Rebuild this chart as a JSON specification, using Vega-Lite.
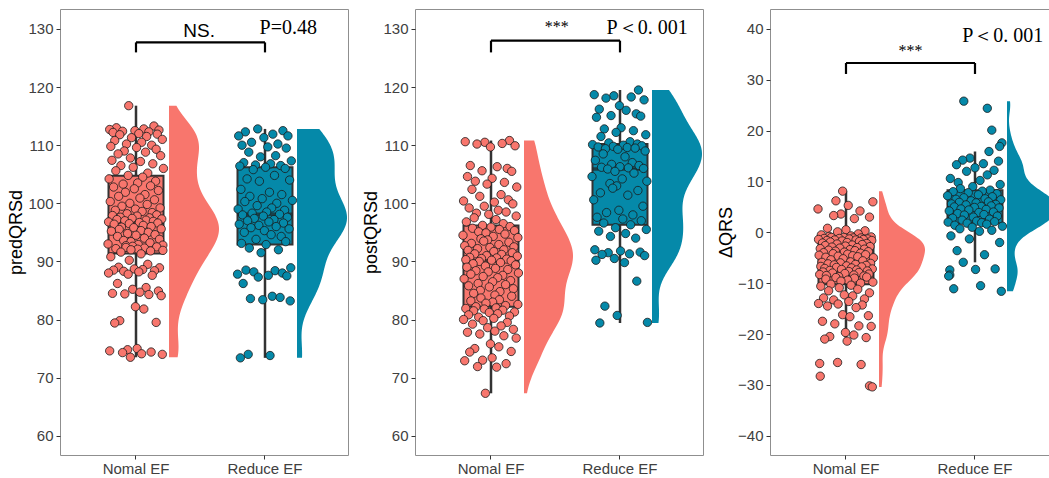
{
  "$schema": "https://vega.github.io/schema/vega-lite/v6.json",
  "background": "white",
  "padding": {"left": 7, "top": 8, "right": 0, "bottom": 0},
  "spacing": 13,
  "config": {
    "view": {"stroke": "#8f8f8f", "strokeWidth": 1},
    "font": "Liberation Sans",
    "axis": {"labelFont": "Liberation Sans", "labelFontSize": 15, "labelColor": "#404040", "tickColor": "#333333", "tickSize": 4, "domain": false, "grid": false, "titleFont": "Liberation Sans", "titleFontSize": 18, "titleFontWeight": "normal", "titleColor": "#000000"},
    "axisY": {"labelPadding": 3, "titlePadding": 2},
    "axisX": {"labelPadding": 2}
  },
  "datasets": {
    "pred": [
      {"g":"Nomal EF","id":37,"v":116.8},{"g":"Nomal EF","id":82,"v":113.3},{"g":"Nomal EF","id":15,"v":113.0},{"g":"Nomal EF","id":64,"v":112.8},{"g":"Nomal EF","id":3,"v":112.7},{"g":"Nomal EF","id":91,"v":112.6},{"g":"Nomal EF","id":48,"v":112.5},{"g":"Nomal EF","id":26,"v":112.4},{"g":"Nomal EF","id":73,"v":112.3},{"g":"Nomal EF","id":9,"v":112.2},
      {"g":"Nomal EF","id":55,"v":112.0},{"g":"Nomal EF","id":88,"v":111.9},{"g":"Nomal EF","id":21,"v":111.8},{"g":"Nomal EF","id":69,"v":111.5},{"g":"Nomal EF","id":42,"v":111.3},{"g":"Nomal EF","id":97,"v":111.0},{"g":"Nomal EF","id":12,"v":110.8},{"g":"Nomal EF","id":60,"v":110.5},{"g":"Nomal EF","id":33,"v":110.2},{"g":"Nomal EF","id":78,"v":110.0},
      {"g":"Nomal EF","id":5,"v":109.8},{"g":"Nomal EF","id":51,"v":109.6},{"g":"Nomal EF","id":86,"v":109.3},{"g":"Nomal EF","id":29,"v":109.0},{"g":"Nomal EF","id":67,"v":108.8},{"g":"Nomal EF","id":18,"v":108.5},{"g":"Nomal EF","id":94,"v":108.2},{"g":"Nomal EF","id":40,"v":107.8},{"g":"Nomal EF","id":7,"v":107.4},{"g":"Nomal EF","id":58,"v":107.2},
      {"g":"Nomal EF","id":80,"v":106.8},{"g":"Nomal EF","id":23,"v":106.5},{"g":"Nomal EF","id":45,"v":106.2},{"g":"Nomal EF","id":99,"v":106.0},{"g":"Nomal EF","id":14,"v":105.6},{"g":"Nomal EF","id":71,"v":105.2},{"g":"Nomal EF","id":36,"v":104.8},{"g":"Nomal EF","id":62,"v":104.5},{"g":"Nomal EF","id":2,"v":104.2},{"g":"Nomal EF","id":85,"v":103.8},
      {"g":"Nomal EF","id":53,"v":103.5},{"g":"Nomal EF","id":27,"v":103.3},{"g":"Nomal EF","id":76,"v":103.0},{"g":"Nomal EF","id":10,"v":102.8},{"g":"Nomal EF","id":47,"v":102.5},{"g":"Nomal EF","id":90,"v":102.2},{"g":"Nomal EF","id":31,"v":101.9},{"g":"Nomal EF","id":66,"v":101.5},{"g":"Nomal EF","id":19,"v":101.2},{"g":"Nomal EF","id":57,"v":100.9},
      {"g":"Nomal EF","id":83,"v":100.6},{"g":"Nomal EF","id":4,"v":100.3},{"g":"Nomal EF","id":39,"v":100.0},{"g":"Nomal EF","id":70,"v":99.8},{"g":"Nomal EF","id":25,"v":99.5},{"g":"Nomal EF","id":93,"v":99.2},{"g":"Nomal EF","id":49,"v":99.0},{"g":"Nomal EF","id":13,"v":98.8},{"g":"Nomal EF","id":61,"v":98.6},{"g":"Nomal EF","id":79,"v":98.4},
      {"g":"Nomal EF","id":34,"v":98.2},{"g":"Nomal EF","id":87,"v":98.0},{"g":"Nomal EF","id":8,"v":97.9},{"g":"Nomal EF","id":52,"v":97.8},{"g":"Nomal EF","id":22,"v":97.6},{"g":"Nomal EF","id":74,"v":97.5},{"g":"Nomal EF","id":43,"v":97.4},{"g":"Nomal EF","id":96,"v":97.3},{"g":"Nomal EF","id":16,"v":97.2},{"g":"Nomal EF","id":68,"v":97.1},
      {"g":"Nomal EF","id":30,"v":97.0},{"g":"Nomal EF","id":81,"v":96.9},{"g":"Nomal EF","id":1,"v":96.8},{"g":"Nomal EF","id":56,"v":96.7},{"g":"Nomal EF","id":89,"v":96.6},{"g":"Nomal EF","id":38,"v":96.5},{"g":"Nomal EF","id":11,"v":96.4},{"g":"Nomal EF","id":63,"v":96.2},{"g":"Nomal EF","id":77,"v":96.0},{"g":"Nomal EF","id":24,"v":95.9},
      {"g":"Nomal EF","id":46,"v":95.8},{"g":"Nomal EF","id":95,"v":95.6},{"g":"Nomal EF","id":20,"v":95.5},{"g":"Nomal EF","id":59,"v":95.3},{"g":"Nomal EF","id":6,"v":95.2},{"g":"Nomal EF","id":72,"v":95.0},{"g":"Nomal EF","id":35,"v":94.8},{"g":"Nomal EF","id":84,"v":94.6},{"g":"Nomal EF","id":50,"v":94.5},{"g":"Nomal EF","id":17,"v":94.3},
      {"g":"Nomal EF","id":65,"v":94.0},{"g":"Nomal EF","id":92,"v":93.8},{"g":"Nomal EF","id":28,"v":93.6},{"g":"Nomal EF","id":41,"v":93.4},{"g":"Nomal EF","id":75,"v":93.2},{"g":"Nomal EF","id":0,"v":93.0},{"g":"Nomal EF","id":54,"v":92.9},{"g":"Nomal EF","id":98,"v":92.8},{"g":"Nomal EF","id":32,"v":92.7},{"g":"Nomal EF","id":44,"v":92.6},
      {"g":"Nomal EF","id":87,"v":92.5},{"g":"Nomal EF","id":32,"v":92.4},{"g":"Nomal EF","id":65,"v":92.3},{"g":"Nomal EF","id":14,"v":92.2},{"g":"Nomal EF","id":53,"v":92.1},{"g":"Nomal EF","id":41,"v":92.0},{"g":"Nomal EF","id":98,"v":91.9},{"g":"Nomal EF","id":76,"v":91.8},{"g":"Nomal EF","id":23,"v":91.6},{"g":"Nomal EF","id":59,"v":91.3},
      {"g":"Nomal EF","id":5,"v":90.8},{"g":"Nomal EF","id":38,"v":90.2},{"g":"Nomal EF","id":71,"v":89.5},{"g":"Nomal EF","id":19,"v":89.0},{"g":"Nomal EF","id":92,"v":88.9},{"g":"Nomal EF","id":47,"v":88.7},{"g":"Nomal EF","id":62,"v":88.6},{"g":"Nomal EF","id":10,"v":88.5},{"g":"Nomal EF","id":83,"v":88.4},{"g":"Nomal EF","id":28,"v":88.3},
      {"g":"Nomal EF","id":55,"v":88.2},{"g":"Nomal EF","id":1,"v":88.0},{"g":"Nomal EF","id":36,"v":87.8},{"g":"Nomal EF","id":79,"v":87.6},{"g":"Nomal EF","id":17,"v":86.2},{"g":"Nomal EF","id":68,"v":85.5},{"g":"Nomal EF","id":44,"v":85.2},{"g":"Nomal EF","id":90,"v":84.9},{"g":"Nomal EF","id":57,"v":84.7},{"g":"Nomal EF","id":8,"v":84.5},
      {"g":"Nomal EF","id":30,"v":84.4},{"g":"Nomal EF","id":73,"v":84.3},{"g":"Nomal EF","id":95,"v":84.1},{"g":"Nomal EF","id":49,"v":82.2},{"g":"Nomal EF","id":64,"v":81.8},{"g":"Nomal EF","id":21,"v":79.8},{"g":"Nomal EF","id":86,"v":79.5},{"g":"Nomal EF","id":12,"v":79.4},{"g":"Nomal EF","id":52,"v":75.0},{"g":"Nomal EF","id":35,"v":74.8},
      {"g":"Nomal EF","id":3,"v":74.6},{"g":"Nomal EF","id":77,"v":74.4},{"g":"Nomal EF","id":26,"v":74.3},{"g":"Nomal EF","id":60,"v":74.1},{"g":"Nomal EF","id":97,"v":74.0},{"g":"Nomal EF","id":40,"v":73.5},
      {"g":"Reduce EF","id":37,"v":112.8},{"g":"Reduce EF","id":82,"v":112.5},{"g":"Reduce EF","id":15,"v":112.3},{"g":"Reduce EF","id":64,"v":111.9},{"g":"Reduce EF","id":3,"v":111.6},{"g":"Reduce EF","id":91,"v":111.6},{"g":"Reduce EF","id":48,"v":111.3},{"g":"Reduce EF","id":26,"v":110.5},{"g":"Reduce EF","id":73,"v":110.2},{"g":"Reduce EF","id":9,"v":110.0},
      {"g":"Reduce EF","id":55,"v":109.7},{"g":"Reduce EF","id":88,"v":109.5},{"g":"Reduce EF","id":21,"v":108.8},{"g":"Reduce EF","id":69,"v":108.2},{"g":"Reduce EF","id":42,"v":108.0},{"g":"Reduce EF","id":97,"v":107.3},{"g":"Reduce EF","id":12,"v":107.0},{"g":"Reduce EF","id":60,"v":106.8},{"g":"Reduce EF","id":33,"v":106.6},{"g":"Reduce EF","id":78,"v":106.5},
      {"g":"Reduce EF","id":5,"v":106.4},{"g":"Reduce EF","id":51,"v":106.2},{"g":"Reduce EF","id":86,"v":106.0},{"g":"Reduce EF","id":29,"v":105.8},{"g":"Reduce EF","id":67,"v":104.8},{"g":"Reduce EF","id":18,"v":104.2},{"g":"Reduce EF","id":94,"v":104.0},{"g":"Reduce EF","id":40,"v":103.8},{"g":"Reduce EF","id":7,"v":102.4},{"g":"Reduce EF","id":58,"v":101.9},
      {"g":"Reduce EF","id":80,"v":101.5},{"g":"Reduce EF","id":23,"v":101.2},{"g":"Reduce EF","id":45,"v":100.8},{"g":"Reduce EF","id":99,"v":100.5},{"g":"Reduce EF","id":14,"v":100.3},{"g":"Reduce EF","id":71,"v":100.0},{"g":"Reduce EF","id":36,"v":99.6},{"g":"Reduce EF","id":62,"v":99.2},{"g":"Reduce EF","id":2,"v":99.0},{"g":"Reduce EF","id":85,"v":98.8},
      {"g":"Reduce EF","id":53,"v":98.5},{"g":"Reduce EF","id":27,"v":98.3},{"g":"Reduce EF","id":76,"v":98.1},{"g":"Reduce EF","id":10,"v":98.0},{"g":"Reduce EF","id":47,"v":97.8},{"g":"Reduce EF","id":90,"v":97.6},{"g":"Reduce EF","id":31,"v":97.4},{"g":"Reduce EF","id":66,"v":97.2},{"g":"Reduce EF","id":19,"v":97.0},{"g":"Reduce EF","id":57,"v":96.8},
      {"g":"Reduce EF","id":83,"v":96.6},{"g":"Reduce EF","id":4,"v":96.4},{"g":"Reduce EF","id":39,"v":96.2},{"g":"Reduce EF","id":70,"v":96.0},{"g":"Reduce EF","id":25,"v":95.8},{"g":"Reduce EF","id":93,"v":95.6},{"g":"Reduce EF","id":49,"v":95.3},{"g":"Reduce EF","id":13,"v":95.0},{"g":"Reduce EF","id":61,"v":94.6},{"g":"Reduce EF","id":79,"v":94.3},
      {"g":"Reduce EF","id":34,"v":93.8},{"g":"Reduce EF","id":87,"v":93.4},{"g":"Reduce EF","id":8,"v":93.1},{"g":"Reduce EF","id":52,"v":92.9},{"g":"Reduce EF","id":22,"v":92.3},{"g":"Reduce EF","id":74,"v":92.0},{"g":"Reduce EF","id":43,"v":91.5},{"g":"Reduce EF","id":96,"v":88.9},{"g":"Reduce EF","id":16,"v":88.5},{"g":"Reduce EF","id":68,"v":88.4},
      {"g":"Reduce EF","id":30,"v":88.2},{"g":"Reduce EF","id":81,"v":88.0},{"g":"Reduce EF","id":1,"v":87.8},{"g":"Reduce EF","id":56,"v":87.6},{"g":"Reduce EF","id":89,"v":87.5},{"g":"Reduce EF","id":38,"v":87.3},{"g":"Reduce EF","id":11,"v":86.2},{"g":"Reduce EF","id":63,"v":84.0},{"g":"Reduce EF","id":77,"v":83.8},{"g":"Reduce EF","id":24,"v":83.6},
      {"g":"Reduce EF","id":46,"v":83.4},{"g":"Reduce EF","id":95,"v":83.2},{"g":"Reduce EF","id":20,"v":74.0},{"g":"Reduce EF","id":59,"v":73.8},{"g":"Reduce EF","id":6,"v":73.4}
    ],
    "post": [
      {"g":"Nomal EF","id":83,"v":110.8},{"g":"Nomal EF","id":4,"v":110.6},{"g":"Nomal EF","id":39,"v":110.5},{"g":"Nomal EF","id":70,"v":110.3},{"g":"Nomal EF","id":25,"v":110.2},{"g":"Nomal EF","id":93,"v":109.9},{"g":"Nomal EF","id":49,"v":109.7},{"g":"Nomal EF","id":13,"v":106.5},{"g":"Nomal EF","id":61,"v":106.3},{"g":"Nomal EF","id":79,"v":106.0},
      {"g":"Nomal EF","id":34,"v":105.6},{"g":"Nomal EF","id":87,"v":105.5},{"g":"Nomal EF","id":8,"v":104.6},{"g":"Nomal EF","id":52,"v":104.3},{"g":"Nomal EF","id":22,"v":103.8},{"g":"Nomal EF","id":74,"v":103.6},{"g":"Nomal EF","id":43,"v":103.3},{"g":"Nomal EF","id":96,"v":102.8},{"g":"Nomal EF","id":16,"v":102.4},{"g":"Nomal EF","id":68,"v":101.5},
      {"g":"Nomal EF","id":30,"v":101.2},{"g":"Nomal EF","id":81,"v":100.6},{"g":"Nomal EF","id":1,"v":100.4},{"g":"Nomal EF","id":56,"v":100.2},{"g":"Nomal EF","id":89,"v":99.9},{"g":"Nomal EF","id":38,"v":99.5},{"g":"Nomal EF","id":11,"v":99.2},{"g":"Nomal EF","id":63,"v":98.8},{"g":"Nomal EF","id":77,"v":98.5},{"g":"Nomal EF","id":24,"v":98.3},
      {"g":"Nomal EF","id":46,"v":98.1},{"g":"Nomal EF","id":95,"v":97.8},{"g":"Nomal EF","id":20,"v":97.5},{"g":"Nomal EF","id":59,"v":97.2},{"g":"Nomal EF","id":6,"v":96.8},{"g":"Nomal EF","id":72,"v":96.5},{"g":"Nomal EF","id":35,"v":96.2},{"g":"Nomal EF","id":84,"v":96.0},{"g":"Nomal EF","id":50,"v":95.9},{"g":"Nomal EF","id":17,"v":95.7},
      {"g":"Nomal EF","id":65,"v":95.5},{"g":"Nomal EF","id":92,"v":95.3},{"g":"Nomal EF","id":28,"v":95.1},{"g":"Nomal EF","id":41,"v":94.9},{"g":"Nomal EF","id":75,"v":94.7},{"g":"Nomal EF","id":0,"v":94.5},{"g":"Nomal EF","id":54,"v":94.3},{"g":"Nomal EF","id":98,"v":94.1},{"g":"Nomal EF","id":32,"v":93.9},{"g":"Nomal EF","id":44,"v":93.7},
      {"g":"Nomal EF","id":37,"v":93.5},{"g":"Nomal EF","id":82,"v":93.3},{"g":"Nomal EF","id":15,"v":93.1},{"g":"Nomal EF","id":64,"v":92.9},{"g":"Nomal EF","id":3,"v":92.7},{"g":"Nomal EF","id":91,"v":92.5},{"g":"Nomal EF","id":48,"v":92.4},{"g":"Nomal EF","id":26,"v":92.2},{"g":"Nomal EF","id":73,"v":92.0},{"g":"Nomal EF","id":9,"v":91.9},
      {"g":"Nomal EF","id":55,"v":91.7},{"g":"Nomal EF","id":88,"v":91.5},{"g":"Nomal EF","id":21,"v":91.3},{"g":"Nomal EF","id":69,"v":91.2},{"g":"Nomal EF","id":42,"v":91.0},{"g":"Nomal EF","id":97,"v":90.9},{"g":"Nomal EF","id":12,"v":90.7},{"g":"Nomal EF","id":60,"v":90.6},{"g":"Nomal EF","id":33,"v":90.5},{"g":"Nomal EF","id":78,"v":90.4},
      {"g":"Nomal EF","id":5,"v":90.3},{"g":"Nomal EF","id":51,"v":90.2},{"g":"Nomal EF","id":86,"v":90.1},{"g":"Nomal EF","id":29,"v":90.0},{"g":"Nomal EF","id":67,"v":89.8},{"g":"Nomal EF","id":18,"v":89.6},{"g":"Nomal EF","id":94,"v":89.4},{"g":"Nomal EF","id":40,"v":89.2},{"g":"Nomal EF","id":7,"v":89.0},{"g":"Nomal EF","id":58,"v":88.8},
      {"g":"Nomal EF","id":80,"v":88.6},{"g":"Nomal EF","id":23,"v":88.4},{"g":"Nomal EF","id":45,"v":88.2},{"g":"Nomal EF","id":99,"v":88.0},{"g":"Nomal EF","id":14,"v":87.8},{"g":"Nomal EF","id":71,"v":87.6},{"g":"Nomal EF","id":36,"v":87.4},{"g":"Nomal EF","id":62,"v":87.2},{"g":"Nomal EF","id":2,"v":87.0},{"g":"Nomal EF","id":85,"v":86.7},
      {"g":"Nomal EF","id":53,"v":86.5},{"g":"Nomal EF","id":27,"v":86.2},{"g":"Nomal EF","id":76,"v":86.0},{"g":"Nomal EF","id":10,"v":85.8},{"g":"Nomal EF","id":47,"v":85.6},{"g":"Nomal EF","id":90,"v":85.3},{"g":"Nomal EF","id":31,"v":85.0},{"g":"Nomal EF","id":66,"v":84.8},{"g":"Nomal EF","id":19,"v":84.5},{"g":"Nomal EF","id":57,"v":84.2},
      {"g":"Nomal EF","id":87,"v":84.0},{"g":"Nomal EF","id":32,"v":83.7},{"g":"Nomal EF","id":65,"v":83.4},{"g":"Nomal EF","id":14,"v":83.2},{"g":"Nomal EF","id":53,"v":83.0},{"g":"Nomal EF","id":41,"v":82.8},{"g":"Nomal EF","id":98,"v":82.6},{"g":"Nomal EF","id":76,"v":82.4},{"g":"Nomal EF","id":23,"v":82.2},{"g":"Nomal EF","id":59,"v":82.0},
      {"g":"Nomal EF","id":5,"v":81.9},{"g":"Nomal EF","id":38,"v":81.8},{"g":"Nomal EF","id":71,"v":81.6},{"g":"Nomal EF","id":19,"v":81.5},{"g":"Nomal EF","id":92,"v":81.3},{"g":"Nomal EF","id":47,"v":81.2},{"g":"Nomal EF","id":62,"v":81.0},{"g":"Nomal EF","id":10,"v":80.8},{"g":"Nomal EF","id":83,"v":80.6},{"g":"Nomal EF","id":28,"v":80.4},
      {"g":"Nomal EF","id":55,"v":80.2},{"g":"Nomal EF","id":1,"v":80.0},{"g":"Nomal EF","id":36,"v":79.8},{"g":"Nomal EF","id":79,"v":79.5},{"g":"Nomal EF","id":17,"v":79.2},{"g":"Nomal EF","id":68,"v":78.9},{"g":"Nomal EF","id":44,"v":78.6},{"g":"Nomal EF","id":90,"v":78.3},{"g":"Nomal EF","id":57,"v":78.0},{"g":"Nomal EF","id":8,"v":77.8},
      {"g":"Nomal EF","id":30,"v":77.5},{"g":"Nomal EF","id":73,"v":77.2},{"g":"Nomal EF","id":95,"v":76.8},{"g":"Nomal EF","id":49,"v":75.8},{"g":"Nomal EF","id":64,"v":75.3},{"g":"Nomal EF","id":21,"v":75.0},{"g":"Nomal EF","id":86,"v":74.5},{"g":"Nomal EF","id":12,"v":74.4},{"g":"Nomal EF","id":52,"v":73.4},{"g":"Nomal EF","id":35,"v":73.0},
      {"g":"Nomal EF","id":3,"v":72.9},{"g":"Nomal EF","id":77,"v":72.4},{"g":"Nomal EF","id":26,"v":71.9},{"g":"Nomal EF","id":60,"v":71.8},{"g":"Nomal EF","id":40,"v":67.3},
      {"g":"Reduce EF","id":83,"v":119.5},{"g":"Reduce EF","id":4,"v":118.7},{"g":"Reduce EF","id":39,"v":118.5},{"g":"Reduce EF","id":70,"v":118.3},{"g":"Reduce EF","id":25,"v":118.1},{"g":"Reduce EF","id":93,"v":117.8},{"g":"Reduce EF","id":49,"v":116.8},{"g":"Reduce EF","id":13,"v":116.2},{"g":"Reduce EF","id":61,"v":116.0},{"g":"Reduce EF","id":79,"v":115.4},
      {"g":"Reduce EF","id":34,"v":115.1},{"g":"Reduce EF","id":87,"v":115.0},{"g":"Reduce EF","id":8,"v":114.8},{"g":"Reduce EF","id":52,"v":113.0},{"g":"Reduce EF","id":22,"v":112.8},{"g":"Reduce EF","id":74,"v":112.5},{"g":"Reduce EF","id":43,"v":112.2},{"g":"Reduce EF","id":96,"v":111.8},{"g":"Reduce EF","id":16,"v":111.5},{"g":"Reduce EF","id":68,"v":110.6},
      {"g":"Reduce EF","id":30,"v":110.4},{"g":"Reduce EF","id":81,"v":110.2},{"g":"Reduce EF","id":1,"v":110.1},{"g":"Reduce EF","id":56,"v":110.0},{"g":"Reduce EF","id":89,"v":109.9},{"g":"Reduce EF","id":38,"v":109.8},{"g":"Reduce EF","id":11,"v":109.7},{"g":"Reduce EF","id":63,"v":109.6},{"g":"Reduce EF","id":77,"v":109.5},{"g":"Reduce EF","id":24,"v":109.4},
      {"g":"Reduce EF","id":46,"v":109.3},{"g":"Reduce EF","id":95,"v":109.0},{"g":"Reduce EF","id":20,"v":108.5},{"g":"Reduce EF","id":59,"v":108.0},{"g":"Reduce EF","id":6,"v":107.4},{"g":"Reduce EF","id":72,"v":107.0},{"g":"Reduce EF","id":35,"v":106.7},{"g":"Reduce EF","id":84,"v":106.5},{"g":"Reduce EF","id":50,"v":106.3},{"g":"Reduce EF","id":17,"v":106.2},
      {"g":"Reduce EF","id":65,"v":106.1},{"g":"Reduce EF","id":92,"v":106.0},{"g":"Reduce EF","id":28,"v":105.9},{"g":"Reduce EF","id":41,"v":105.5},{"g":"Reduce EF","id":75,"v":105.2},{"g":"Reduce EF","id":0,"v":104.6},{"g":"Reduce EF","id":54,"v":104.2},{"g":"Reduce EF","id":98,"v":103.8},{"g":"Reduce EF","id":32,"v":103.4},{"g":"Reduce EF","id":44,"v":103.0},
      {"g":"Reduce EF","id":37,"v":102.6},{"g":"Reduce EF","id":82,"v":102.2},{"g":"Reduce EF","id":15,"v":101.8},{"g":"Reduce EF","id":64,"v":101.4},{"g":"Reduce EF","id":3,"v":100.6},{"g":"Reduce EF","id":91,"v":99.5},{"g":"Reduce EF","id":48,"v":98.8},{"g":"Reduce EF","id":26,"v":98.4},{"g":"Reduce EF","id":73,"v":98.0},{"g":"Reduce EF","id":9,"v":97.6},
      {"g":"Reduce EF","id":55,"v":97.3},{"g":"Reduce EF","id":88,"v":97.0},{"g":"Reduce EF","id":21,"v":96.6},{"g":"Reduce EF","id":69,"v":96.3},{"g":"Reduce EF","id":42,"v":95.8},{"g":"Reduce EF","id":97,"v":95.5},{"g":"Reduce EF","id":12,"v":95.2},{"g":"Reduce EF","id":60,"v":94.8},{"g":"Reduce EF","id":33,"v":94.3},{"g":"Reduce EF","id":78,"v":94.0},
      {"g":"Reduce EF","id":5,"v":92.0},{"g":"Reduce EF","id":51,"v":91.8},{"g":"Reduce EF","id":86,"v":91.6},{"g":"Reduce EF","id":29,"v":91.5},{"g":"Reduce EF","id":67,"v":91.3},{"g":"Reduce EF","id":18,"v":91.2},{"g":"Reduce EF","id":94,"v":91.0},{"g":"Reduce EF","id":40,"v":90.5},{"g":"Reduce EF","id":7,"v":90.2},{"g":"Reduce EF","id":58,"v":89.8},
      {"g":"Reduce EF","id":80,"v":86.6},{"g":"Reduce EF","id":23,"v":82.3},{"g":"Reduce EF","id":45,"v":80.7},{"g":"Reduce EF","id":99,"v":79.5},{"g":"Reduce EF","id":14,"v":79.4}
    ],
    "delta": [
      {"g":"Nomal EF","id":44,"v":8.1},{"g":"Nomal EF","id":32,"v":6.2},{"g":"Nomal EF","id":98,"v":6.0},{"g":"Nomal EF","id":54,"v":5.3},{"g":"Nomal EF","id":0,"v":4.6},{"g":"Nomal EF","id":75,"v":4.2},{"g":"Nomal EF","id":41,"v":3.6},{"g":"Nomal EF","id":28,"v":3.3},{"g":"Nomal EF","id":92,"v":3.0},{"g":"Nomal EF","id":65,"v":2.7},
      {"g":"Nomal EF","id":17,"v":0.8},{"g":"Nomal EF","id":50,"v":0.5},{"g":"Nomal EF","id":84,"v":0.3},{"g":"Nomal EF","id":35,"v":0.1},{"g":"Nomal EF","id":72,"v":-0.3},{"g":"Nomal EF","id":6,"v":-0.5},{"g":"Nomal EF","id":59,"v":-0.7},{"g":"Nomal EF","id":20,"v":-0.8},{"g":"Nomal EF","id":95,"v":-0.9},{"g":"Nomal EF","id":46,"v":-1.0},
      {"g":"Nomal EF","id":24,"v":-1.0},{"g":"Nomal EF","id":77,"v":-1.1},{"g":"Nomal EF","id":63,"v":-1.1},{"g":"Nomal EF","id":11,"v":-1.2},{"g":"Nomal EF","id":38,"v":-1.2},{"g":"Nomal EF","id":89,"v":-1.3},{"g":"Nomal EF","id":56,"v":-1.3},{"g":"Nomal EF","id":1,"v":-1.4},{"g":"Nomal EF","id":81,"v":-1.4},{"g":"Nomal EF","id":30,"v":-1.5},
      {"g":"Nomal EF","id":68,"v":-1.5},{"g":"Nomal EF","id":16,"v":-1.6},{"g":"Nomal EF","id":96,"v":-1.6},{"g":"Nomal EF","id":43,"v":-1.7},{"g":"Nomal EF","id":74,"v":-1.8},{"g":"Nomal EF","id":22,"v":-1.9},{"g":"Nomal EF","id":52,"v":-2.0},{"g":"Nomal EF","id":8,"v":-2.1},{"g":"Nomal EF","id":87,"v":-2.2},{"g":"Nomal EF","id":34,"v":-2.3},
      {"g":"Nomal EF","id":79,"v":-2.4},{"g":"Nomal EF","id":61,"v":-2.5},{"g":"Nomal EF","id":13,"v":-2.6},{"g":"Nomal EF","id":49,"v":-2.7},{"g":"Nomal EF","id":93,"v":-2.8},{"g":"Nomal EF","id":25,"v":-2.9},{"g":"Nomal EF","id":70,"v":-3.0},{"g":"Nomal EF","id":39,"v":-3.1},{"g":"Nomal EF","id":4,"v":-3.2},{"g":"Nomal EF","id":83,"v":-3.3},
      {"g":"Nomal EF","id":57,"v":-3.4},{"g":"Nomal EF","id":19,"v":-3.5},{"g":"Nomal EF","id":66,"v":-3.6},{"g":"Nomal EF","id":31,"v":-3.7},{"g":"Nomal EF","id":90,"v":-3.8},{"g":"Nomal EF","id":47,"v":-3.9},{"g":"Nomal EF","id":10,"v":-4.0},{"g":"Nomal EF","id":76,"v":-4.1},{"g":"Nomal EF","id":27,"v":-4.2},{"g":"Nomal EF","id":53,"v":-4.3},
      {"g":"Nomal EF","id":85,"v":-4.4},{"g":"Nomal EF","id":2,"v":-4.5},{"g":"Nomal EF","id":62,"v":-4.6},{"g":"Nomal EF","id":36,"v":-4.7},{"g":"Nomal EF","id":71,"v":-4.8},{"g":"Nomal EF","id":14,"v":-4.9},{"g":"Nomal EF","id":99,"v":-5.0},{"g":"Nomal EF","id":45,"v":-5.2},{"g":"Nomal EF","id":23,"v":-5.4},{"g":"Nomal EF","id":80,"v":-5.6},
      {"g":"Nomal EF","id":58,"v":-5.8},{"g":"Nomal EF","id":7,"v":-5.9},{"g":"Nomal EF","id":40,"v":-6.0},{"g":"Nomal EF","id":94,"v":-6.1},{"g":"Nomal EF","id":18,"v":-6.2},{"g":"Nomal EF","id":67,"v":-6.3},{"g":"Nomal EF","id":29,"v":-6.4},{"g":"Nomal EF","id":86,"v":-6.5},{"g":"Nomal EF","id":51,"v":-6.6},{"g":"Nomal EF","id":5,"v":-6.7},
      {"g":"Nomal EF","id":78,"v":-6.8},{"g":"Nomal EF","id":33,"v":-6.9},{"g":"Nomal EF","id":60,"v":-7.0},{"g":"Nomal EF","id":12,"v":-7.1},{"g":"Nomal EF","id":97,"v":-7.2},{"g":"Nomal EF","id":42,"v":-7.3},{"g":"Nomal EF","id":69,"v":-7.4},{"g":"Nomal EF","id":21,"v":-7.5},{"g":"Nomal EF","id":88,"v":-7.6},{"g":"Nomal EF","id":55,"v":-7.7},
      {"g":"Nomal EF","id":9,"v":-7.8},{"g":"Nomal EF","id":73,"v":-7.9},{"g":"Nomal EF","id":26,"v":-8.0},{"g":"Nomal EF","id":48,"v":-8.1},{"g":"Nomal EF","id":91,"v":-8.2},{"g":"Nomal EF","id":3,"v":-8.3},{"g":"Nomal EF","id":64,"v":-8.4},{"g":"Nomal EF","id":15,"v":-8.5},{"g":"Nomal EF","id":82,"v":-8.6},{"g":"Nomal EF","id":37,"v":-8.7},
      {"g":"Nomal EF","id":87,"v":-8.8},{"g":"Nomal EF","id":32,"v":-8.9},{"g":"Nomal EF","id":65,"v":-9.0},{"g":"Nomal EF","id":14,"v":-9.2},{"g":"Nomal EF","id":53,"v":-9.4},{"g":"Nomal EF","id":41,"v":-9.6},{"g":"Nomal EF","id":98,"v":-9.8},{"g":"Nomal EF","id":76,"v":-10.0},{"g":"Nomal EF","id":23,"v":-10.2},{"g":"Nomal EF","id":59,"v":-10.4},
      {"g":"Nomal EF","id":5,"v":-10.6},{"g":"Nomal EF","id":38,"v":-10.9},{"g":"Nomal EF","id":71,"v":-11.2},{"g":"Nomal EF","id":19,"v":-11.5},{"g":"Nomal EF","id":92,"v":-11.9},{"g":"Nomal EF","id":47,"v":-12.3},{"g":"Nomal EF","id":62,"v":-12.5},{"g":"Nomal EF","id":10,"v":-12.9},{"g":"Nomal EF","id":83,"v":-13.1},{"g":"Nomal EF","id":28,"v":-13.3},
      {"g":"Nomal EF","id":55,"v":-13.6},{"g":"Nomal EF","id":1,"v":-14.0},{"g":"Nomal EF","id":36,"v":-14.1},{"g":"Nomal EF","id":79,"v":-14.3},{"g":"Nomal EF","id":17,"v":-14.5},{"g":"Nomal EF","id":68,"v":-14.8},{"g":"Nomal EF","id":44,"v":-16.2},{"g":"Nomal EF","id":90,"v":-16.4},{"g":"Nomal EF","id":57,"v":-16.6},{"g":"Nomal EF","id":8,"v":-17.5},
      {"g":"Nomal EF","id":30,"v":-18.0},{"g":"Nomal EF","id":73,"v":-18.4},{"g":"Nomal EF","id":95,"v":-18.5},{"g":"Nomal EF","id":49,"v":-19.7},{"g":"Nomal EF","id":64,"v":-20.2},{"g":"Nomal EF","id":21,"v":-20.5},{"g":"Nomal EF","id":86,"v":-20.7},{"g":"Nomal EF","id":12,"v":-21.0},{"g":"Nomal EF","id":52,"v":-21.4},{"g":"Nomal EF","id":35,"v":-25.6},
      {"g":"Nomal EF","id":3,"v":-25.8},{"g":"Nomal EF","id":77,"v":-26.0},{"g":"Nomal EF","id":4,"v":-28.3},{"g":"Nomal EF","id":92,"v":-30.2},{"g":"Nomal EF","id":97,"v":-30.4},
      {"g":"Reduce EF","id":30,"v":25.8},{"g":"Reduce EF","id":72,"v":24.4},{"g":"Reduce EF","id":80,"v":20.1},{"g":"Reduce EF","id":98,"v":17.6},{"g":"Reduce EF","id":94,"v":16.9},{"g":"Reduce EF","id":75,"v":15.9},{"g":"Reduce EF","id":41,"v":14.6},{"g":"Reduce EF","id":28,"v":14.2},{"g":"Reduce EF","id":92,"v":14.0},{"g":"Reduce EF","id":65,"v":13.5},
      {"g":"Reduce EF","id":17,"v":13.3},{"g":"Reduce EF","id":50,"v":12.7},{"g":"Reduce EF","id":84,"v":12.2},{"g":"Reduce EF","id":35,"v":12.0},{"g":"Reduce EF","id":72,"v":11.3},{"g":"Reduce EF","id":6,"v":10.6},{"g":"Reduce EF","id":59,"v":10.2},{"g":"Reduce EF","id":20,"v":9.8},{"g":"Reduce EF","id":95,"v":9.4},{"g":"Reduce EF","id":46,"v":9.0},
      {"g":"Reduce EF","id":24,"v":8.6},{"g":"Reduce EF","id":77,"v":8.3},{"g":"Reduce EF","id":63,"v":8.1},{"g":"Reduce EF","id":11,"v":8.0},{"g":"Reduce EF","id":38,"v":7.8},{"g":"Reduce EF","id":89,"v":7.6},{"g":"Reduce EF","id":56,"v":7.4},{"g":"Reduce EF","id":1,"v":7.2},{"g":"Reduce EF","id":81,"v":7.0},{"g":"Reduce EF","id":30,"v":6.8},
      {"g":"Reduce EF","id":68,"v":6.6},{"g":"Reduce EF","id":16,"v":6.5},{"g":"Reduce EF","id":96,"v":6.4},{"g":"Reduce EF","id":43,"v":6.2},{"g":"Reduce EF","id":74,"v":6.0},{"g":"Reduce EF","id":22,"v":5.9},{"g":"Reduce EF","id":52,"v":5.8},{"g":"Reduce EF","id":8,"v":5.6},{"g":"Reduce EF","id":87,"v":5.5},{"g":"Reduce EF","id":34,"v":5.4},
      {"g":"Reduce EF","id":79,"v":5.2},{"g":"Reduce EF","id":61,"v":5.1},{"g":"Reduce EF","id":13,"v":5.0},{"g":"Reduce EF","id":49,"v":4.9},{"g":"Reduce EF","id":93,"v":4.8},{"g":"Reduce EF","id":25,"v":4.6},{"g":"Reduce EF","id":70,"v":4.5},{"g":"Reduce EF","id":39,"v":4.4},{"g":"Reduce EF","id":4,"v":4.2},{"g":"Reduce EF","id":83,"v":4.0},
      {"g":"Reduce EF","id":57,"v":3.9},{"g":"Reduce EF","id":19,"v":3.7},{"g":"Reduce EF","id":66,"v":3.5},{"g":"Reduce EF","id":31,"v":3.4},{"g":"Reduce EF","id":90,"v":3.2},{"g":"Reduce EF","id":47,"v":3.0},{"g":"Reduce EF","id":10,"v":2.8},{"g":"Reduce EF","id":76,"v":2.6},{"g":"Reduce EF","id":27,"v":2.4},{"g":"Reduce EF","id":53,"v":2.2},
      {"g":"Reduce EF","id":85,"v":2.1},{"g":"Reduce EF","id":2,"v":2.0},{"g":"Reduce EF","id":62,"v":1.9},{"g":"Reduce EF","id":36,"v":1.8},{"g":"Reduce EF","id":71,"v":1.6},{"g":"Reduce EF","id":14,"v":1.4},{"g":"Reduce EF","id":99,"v":1.2},{"g":"Reduce EF","id":45,"v":1.0},{"g":"Reduce EF","id":23,"v":0.7},{"g":"Reduce EF","id":80,"v":0.4},
      {"g":"Reduce EF","id":58,"v":0.2},{"g":"Reduce EF","id":7,"v":-0.7},{"g":"Reduce EF","id":40,"v":-1.3},{"g":"Reduce EF","id":94,"v":-2.0},{"g":"Reduce EF","id":18,"v":-3.6},{"g":"Reduce EF","id":67,"v":-4.4},{"g":"Reduce EF","id":29,"v":-5.9},{"g":"Reduce EF","id":86,"v":-7.2},{"g":"Reduce EF","id":51,"v":-7.3},{"g":"Reduce EF","id":5,"v":-7.4},
      {"g":"Reduce EF","id":5,"v":-8.4},{"g":"Reduce EF","id":3,"v":-8.6},{"g":"Reduce EF","id":60,"v":-10.5},{"g":"Reduce EF","id":12,"v":-11.1},{"g":"Reduce EF","id":97,"v":-11.6}
    ]
  },
  "hconcat": [
    {
      "width": 288, "height": 446,
      "data": {"name": "pred"},
      "resolve": {"scale": {"x": "independent"}},
      "layer": [
        {"transform": [{"filter": "datum.g == 'Nomal EF'"}, {"density": "v", "as": ["v", "density"], "steps": 200, "bandwidth": 3.1}],
         "mark": {"type": "area", "orient": "horizontal", "color": "#F8766D", "clip": true},
         "encoding": {"y": {"field": "v", "type": "quantitative", "title": "predQRSd", "scale": {"domain": [56.68, 133.44], "nice": false, "zero": false}, "axis": {"values": [60, 70, 80, 90, 100, 110, 120, 130]}},
           "x": {"field": "density", "type": "quantitative", "scale": {"range": [109, 159], "zero": true, "nice": false}, "axis": null}, "x2": {"datum": 0}}},
        {"transform": [{"filter": "datum.g == 'Reduce EF'"}, {"density": "v", "as": ["v", "density"], "steps": 200, "bandwidth": 3.4}],
         "mark": {"type": "area", "orient": "horizontal", "color": "#0589A9", "clip": true},
         "encoding": {"y": {"field": "v", "type": "quantitative", "title": "predQRSd", "scale": {"domain": [56.68, 133.44], "nice": false, "zero": false}},
           "x": {"field": "density", "type": "quantitative", "scale": {"range": [237, 287], "zero": true, "nice": false}, "axis": null}, "x2": {"datum": 0}}},
        {"mark": {"type": "boxplot", "size": 55, "extent": 1.5, "outliers": false, "box": {"stroke": "#333333", "strokeWidth": 2}, "median": {"color": "#222222", "thickness": 3.5}, "rule": {"color": "#333333", "strokeWidth": 2.5}},
         "encoding": {
           "y": {"field": "v", "type": "quantitative", "title": "predQRSd", "scale": {"domain": [56.68, 133.44], "nice": false, "zero": false}},
           "x": {"field": "g", "type": "nominal", "scale": {"domain": ["Nomal EF", "Reduce EF"], "paddingInner": 0.566, "paddingOuter": 0.3993, "align": 0.466}, "axis": {"title": null, "labelAngle": 0, "bandPosition": 0.5}},
           "color": {"field": "g", "type": "nominal", "scale": {"domain": ["Nomal EF", "Reduce EF"], "range": ["#F8766D", "#0589A9"]}, "legend": null}}},
        {"mark": {"type": "point", "filled": true, "size": 70, "stroke": "#1a1a1a", "strokeWidth": 0.8, "opacity": 1},
         "encoding": {
           "y": {"field": "v", "type": "quantitative", "title": "predQRSd", "scale": {"domain": [56.68, 133.44], "nice": false, "zero": false}},
           "x": {"field": "g", "type": "nominal", "scale": {"domain": ["Nomal EF", "Reduce EF"], "paddingInner": 0.566, "paddingOuter": 0.3993, "align": 0.466}, "axis": null},
           "xOffset": {"field": "id", "type": "quantitative", "scale": {"domain": [0, 100]}},
           "color": {"field": "g", "type": "nominal", "scale": {"domain": ["Nomal EF", "Reduce EF"], "range": ["#F8766D", "#0589A9"]}, "legend": null}}},
        {"data": {"values": [{}]}, "mark": {"type": "rule", "color": "#000000", "strokeWidth": 2.2},
         "encoding": {"x": {"datum": 1, "type": "quantitative", "scale": {"domain": [0.4109, 2.6434], "nice": false, "zero": false}, "axis": null}, "x2": {"datum": 2}, "y": {"datum": 127.69, "type": "quantitative"}}},
        {"data": {"values": [{}]}, "mark": {"type": "rule", "color": "#000000", "strokeWidth": 2.2},
         "encoding": {"x": {"datum": 1, "type": "quantitative", "scale": {"domain": [0.4109, 2.6434], "nice": false, "zero": false}, "axis": null}, "y": {"datum": 125.97, "type": "quantitative"}, "y2": {"datum": 127.69}}},
        {"data": {"values": [{}]}, "mark": {"type": "rule", "color": "#000000", "strokeWidth": 2.2},
         "encoding": {"x": {"datum": 2, "type": "quantitative", "scale": {"domain": [0.4109, 2.6434], "nice": false, "zero": false}, "axis": null}, "y": {"datum": 125.97, "type": "quantitative"}, "y2": {"datum": 127.69}}},
        {"data": {"values": [{}]}, "mark": {"type": "text", "text": "NS.", "font": "Liberation Sans", "fontSize": 19, "align": "center", "baseline": "alphabetic", "color": "#000000"},
         "encoding": {"x": {"datum": 1.49, "type": "quantitative", "scale": {"domain": [0.4109, 2.6434], "nice": false, "zero": false}, "axis": null}, "y": {"datum": 128.55, "type": "quantitative"}}},
        {"data": {"values": [{}]}, "mark": {"type": "text", "text": "P=0.48", "font": "Liberation Serif", "fontSize": 20, "align": "center", "baseline": "alphabetic", "color": "#000000"},
         "encoding": {"x": {"datum": 2.18, "type": "quantitative", "scale": {"domain": [0.4109, 2.6434], "nice": false, "zero": false}, "axis": null}, "y": {"datum": 129.14, "type": "quantitative"}}}
      ]
    },
    {
      "width": 288, "height": 446,
      "data": {"name": "post"},
      "resolve": {"scale": {"x": "independent"}},
      "layer": [
        {"transform": [{"filter": "datum.g == 'Nomal EF'"}, {"density": "v", "as": ["v", "density"], "steps": 200, "bandwidth": 3.0}],
         "mark": {"type": "area", "orient": "horizontal", "color": "#F8766D", "clip": true},
         "encoding": {"y": {"field": "v", "type": "quantitative", "title": "postQRSd", "scale": {"domain": [56.68, 133.44], "nice": false, "zero": false}, "axis": {"values": [60, 70, 80, 90, 100, 110, 120, 130]}},
           "x": {"field": "density", "type": "quantitative", "scale": {"range": [109, 158], "zero": true, "nice": false}, "axis": null}, "x2": {"datum": 0}}},
        {"transform": [{"filter": "datum.g == 'Reduce EF'"}, {"density": "v", "as": ["v", "density"], "steps": 200, "bandwidth": 3.2}],
         "mark": {"type": "area", "orient": "horizontal", "color": "#0589A9", "clip": true},
         "encoding": {"y": {"field": "v", "type": "quantitative", "title": "postQRSd", "scale": {"domain": [56.68, 133.44], "nice": false, "zero": false}},
           "x": {"field": "density", "type": "quantitative", "scale": {"range": [237, 287], "zero": true, "nice": false}, "axis": null}, "x2": {"datum": 0}}},
        {"mark": {"type": "boxplot", "size": 55, "extent": 1.5, "outliers": false, "box": {"stroke": "#333333", "strokeWidth": 2}, "median": {"color": "#222222", "thickness": 3.5}, "rule": {"color": "#333333", "strokeWidth": 2.5}},
         "encoding": {
           "y": {"field": "v", "type": "quantitative", "title": "postQRSd", "scale": {"domain": [56.68, 133.44], "nice": false, "zero": false}},
           "x": {"field": "g", "type": "nominal", "scale": {"domain": ["Nomal EF", "Reduce EF"], "paddingInner": 0.566, "paddingOuter": 0.3993, "align": 0.466}, "axis": {"title": null, "labelAngle": 0, "bandPosition": 0.5}},
           "color": {"field": "g", "type": "nominal", "scale": {"domain": ["Nomal EF", "Reduce EF"], "range": ["#F8766D", "#0589A9"]}, "legend": null}}},
        {"mark": {"type": "point", "filled": true, "size": 70, "stroke": "#1a1a1a", "strokeWidth": 0.8, "opacity": 1},
         "encoding": {
           "y": {"field": "v", "type": "quantitative", "title": "postQRSd", "scale": {"domain": [56.68, 133.44], "nice": false, "zero": false}},
           "x": {"field": "g", "type": "nominal", "scale": {"domain": ["Nomal EF", "Reduce EF"], "paddingInner": 0.566, "paddingOuter": 0.3993, "align": 0.466}, "axis": null},
           "xOffset": {"field": "id", "type": "quantitative", "scale": {"domain": [0, 100]}},
           "color": {"field": "g", "type": "nominal", "scale": {"domain": ["Nomal EF", "Reduce EF"], "range": ["#F8766D", "#0589A9"]}, "legend": null}}},
        {"data": {"values": [{}]}, "mark": {"type": "rule", "color": "#000000", "strokeWidth": 2.2},
         "encoding": {"x": {"datum": 1, "type": "quantitative", "scale": {"domain": [0.4109, 2.6434], "nice": false, "zero": false}, "axis": null}, "x2": {"datum": 2}, "y": {"datum": 127.99, "type": "quantitative"}}},
        {"data": {"values": [{}]}, "mark": {"type": "rule", "color": "#000000", "strokeWidth": 2.2},
         "encoding": {"x": {"datum": 1, "type": "quantitative", "scale": {"domain": [0.4109, 2.6434], "nice": false, "zero": false}, "axis": null}, "y": {"datum": 125.97, "type": "quantitative"}, "y2": {"datum": 127.99}}},
        {"data": {"values": [{}]}, "mark": {"type": "rule", "color": "#000000", "strokeWidth": 2.2},
         "encoding": {"x": {"datum": 2, "type": "quantitative", "scale": {"domain": [0.4109, 2.6434], "nice": false, "zero": false}, "axis": null}, "y": {"datum": 125.97, "type": "quantitative"}, "y2": {"datum": 127.99}}},
        {"data": {"values": [{}]}, "mark": {"type": "text", "text": "***", "font": "Liberation Serif", "fontSize": 16, "align": "center", "baseline": "alphabetic", "color": "#000000"},
         "encoding": {"x": {"datum": 1.51, "type": "quantitative", "scale": {"domain": [0.4109, 2.6434], "nice": false, "zero": false}, "axis": null}, "y": {"datum": 129.4, "type": "quantitative"}}},
        {"data": {"values": [{}]}, "mark": {"type": "text", "text": "P＜0. 001", "font": "Liberation Serif", "fontSize": 20, "align": "center", "baseline": "alphabetic", "color": "#000000"},
         "encoding": {"x": {"datum": 2.21, "type": "quantitative", "scale": {"domain": [0.4109, 2.6434], "nice": false, "zero": false}, "axis": null}, "y": {"datum": 129.14, "type": "quantitative"}}}
      ]
    },
    {
      "width": 282, "height": 446,
      "data": {"name": "delta"},
      "resolve": {"scale": {"x": "independent"}},
      "layer": [
        {"transform": [{"filter": "datum.g == 'Nomal EF'"}, {"density": "v", "as": ["v", "density"], "steps": 200, "bandwidth": 2.2}],
         "mark": {"type": "area", "orient": "horizontal", "color": "#F8766D", "clip": true},
         "encoding": {"y": {"field": "v", "type": "quantitative", "title": "ΔQRS", "scale": {"domain": [-43.8, 43.93], "nice": false, "zero": false}, "axis": {"values": [-40, -30, -20, -10, 0, 10, 20, 30, 40]}},
           "x": {"field": "density", "type": "quantitative", "scale": {"range": [109, 155], "zero": true, "nice": false}, "axis": null}, "x2": {"datum": 0}}},
        {"transform": [{"filter": "datum.g == 'Reduce EF'"}, {"density": "v", "as": ["v", "density"], "steps": 200, "bandwidth": 1.8}],
         "mark": {"type": "area", "orient": "horizontal", "color": "#0589A9", "clip": true},
         "encoding": {"y": {"field": "v", "type": "quantitative", "title": "ΔQRS", "scale": {"domain": [-43.8, 43.93], "nice": false, "zero": false}},
           "x": {"field": "density", "type": "quantitative", "scale": {"range": [237, 287], "zero": true, "nice": false}, "axis": null}, "x2": {"datum": 0}}},
        {"transform": [{"filter": "datum.g == 'Nomal EF'"}],
         "mark": {"type": "boxplot", "size": 55, "extent": 1.5, "outliers": false, "box": {"stroke": "#333333", "strokeWidth": 2}, "median": {"color": "#222222", "thickness": 3.5}, "rule": {"color": "#333333", "strokeWidth": 2.5}},
         "encoding": {
           "y": {"field": "v", "type": "quantitative", "title": "ΔQRS", "scale": {"domain": [-43.8, 43.93], "nice": false, "zero": false}},
           "x": {"field": "g", "type": "nominal", "scale": {"domain": ["Nomal EF", "Reduce EF"], "paddingInner": 0.566, "paddingOuter": 0.376, "align": 0.4948}, "axis": {"title": null, "labelAngle": 0, "bandPosition": 0.5}},
           "color": {"field": "g", "type": "nominal", "scale": {"domain": ["Nomal EF", "Reduce EF"], "range": ["#F8766D", "#0589A9"]}, "legend": null}}},
        {"transform": [{"filter": "datum.g == 'Reduce EF'"}],
         "mark": {"type": "boxplot", "size": 55, "extent": 1.2, "outliers": false, "box": {"stroke": "#333333", "strokeWidth": 2}, "median": {"color": "#222222", "thickness": 3.5}, "rule": {"color": "#333333", "strokeWidth": 2.5}},
         "encoding": {
           "y": {"field": "v", "type": "quantitative", "title": "ΔQRS", "scale": {"domain": [-43.8, 43.93], "nice": false, "zero": false}},
           "x": {"field": "g", "type": "nominal", "scale": {"domain": ["Nomal EF", "Reduce EF"], "paddingInner": 0.566, "paddingOuter": 0.376, "align": 0.4948}, "axis": null},
           "color": {"field": "g", "type": "nominal", "scale": {"domain": ["Nomal EF", "Reduce EF"], "range": ["#F8766D", "#0589A9"]}, "legend": null}}},
        {"mark": {"type": "point", "filled": true, "size": 70, "stroke": "#1a1a1a", "strokeWidth": 0.8, "opacity": 1},
         "encoding": {
           "y": {"field": "v", "type": "quantitative", "title": "ΔQRS", "scale": {"domain": [-43.8, 43.93], "nice": false, "zero": false}},
           "x": {"field": "g", "type": "nominal", "scale": {"domain": ["Nomal EF", "Reduce EF"], "paddingInner": 0.566, "paddingOuter": 0.376, "align": 0.4948}, "axis": null},
           "xOffset": {"field": "id", "type": "quantitative", "scale": {"domain": [0, 100]}},
           "color": {"field": "g", "type": "nominal", "scale": {"domain": ["Nomal EF", "Reduce EF"], "range": ["#F8766D", "#0589A9"]}, "legend": null}}},
        {"data": {"values": [{}]}, "mark": {"type": "rule", "color": "#000000", "strokeWidth": 2.2},
         "encoding": {"x": {"datum": 1, "type": "quantitative", "scale": {"domain": [0.4109, 2.5969], "nice": false, "zero": false}, "axis": null}, "x2": {"datum": 2}, "y": {"datum": 33.31, "type": "quantitative"}}},
        {"data": {"values": [{}]}, "mark": {"type": "rule", "color": "#000000", "strokeWidth": 2.2},
         "encoding": {"x": {"datum": 1, "type": "quantitative", "scale": {"domain": [0.4109, 2.5969], "nice": false, "zero": false}, "axis": null}, "y": {"datum": 31.15, "type": "quantitative"}, "y2": {"datum": 33.31}}},
        {"data": {"values": [{}]}, "mark": {"type": "rule", "color": "#000000", "strokeWidth": 2.2},
         "encoding": {"x": {"datum": 2, "type": "quantitative", "scale": {"domain": [0.4109, 2.5969], "nice": false, "zero": false}, "axis": null}, "y": {"datum": 31.15, "type": "quantitative"}, "y2": {"datum": 33.31}}},
        {"data": {"values": [{}]}, "mark": {"type": "text", "text": "***", "font": "Liberation Serif", "fontSize": 16, "align": "center", "baseline": "alphabetic", "color": "#000000"},
         "encoding": {"x": {"datum": 1.5, "type": "quantitative", "scale": {"domain": [0.4109, 2.5969], "nice": false, "zero": false}, "axis": null}, "y": {"datum": 34.75, "type": "quantitative"}}},
        {"data": {"values": [{}]}, "mark": {"type": "text", "text": "P＜0. 001", "font": "Liberation Serif", "fontSize": 20, "align": "center", "baseline": "alphabetic", "color": "#000000"},
         "encoding": {"x": {"datum": 2.215, "type": "quantitative", "scale": {"domain": [0.4109, 2.5969], "nice": false, "zero": false}, "axis": null}, "y": {"datum": 37.37, "type": "quantitative"}}}
      ]
    }
  ]
}
